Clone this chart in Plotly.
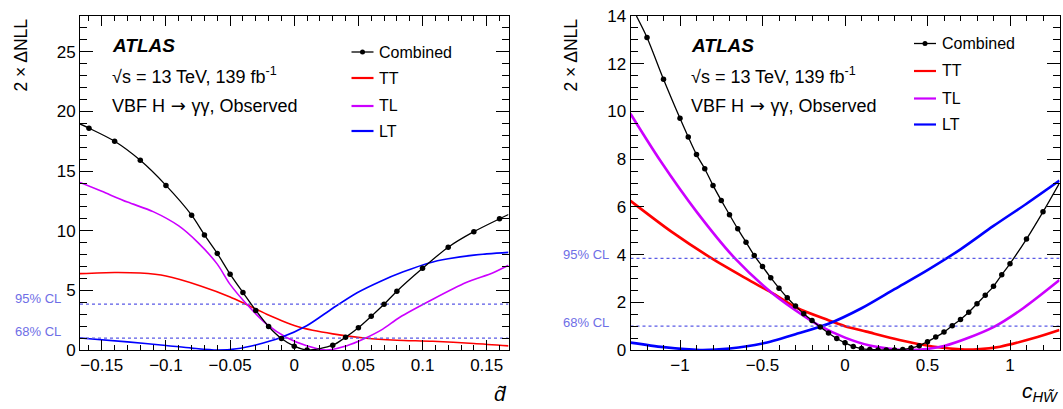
import plotly.graph_objects as go

# ---------------- data: left panel (d-tilde) ----------------
d_comb_x = [-0.16, -0.14, -0.12, -0.10, -0.08, -0.07, -0.06, -0.05, -0.04, -0.03, -0.02, -0.01,
            0.0, 0.01, 0.03, 0.04, 0.05, 0.06, 0.07, 0.08, 0.10, 0.12, 0.14, 0.16]
d_comb_y = [18.6, 17.5, 15.9, 13.8, 11.3, 9.65, 8.1, 6.36, 4.82, 3.32, 1.97, 0.96,
            0.32, 0.0, 0.4, 1.07, 1.86, 2.82, 3.83, 4.93, 6.85, 8.62, 9.92, 11.0]
d_comb_edge_x = [-0.167, 0.167]
d_comb_edge_y = [18.95, 11.36]

d_tt_x = [-0.167, -0.14, -0.12, -0.10, -0.073, -0.05, -0.038, -0.0215, 0.0045, 0.03, 0.056, 0.08, 0.108, 0.14, 0.167]
d_tt_y = [6.4, 6.5, 6.45, 6.2, 5.37, 4.45, 3.85, 3.0, 1.9, 1.35, 0.98, 0.82, 0.73, 0.55, 0.35]

d_tl_x = [-0.167, -0.15, -0.13, -0.11, -0.09, -0.075, -0.06, -0.05, -0.037, -0.0215, -0.006,
          0.0097, 0.025, 0.041, 0.054, 0.069, 0.082, 0.108, 0.134, 0.155, 0.167]
d_tl_y = [14.05, 13.3, 12.4, 11.6, 10.4, 9.0, 7.2, 5.5, 3.83, 2.17, 1.05,
          0.36, 0.0, 0.36, 0.92, 1.75, 2.72, 4.25, 5.65, 6.48, 7.1]

d_lt_x = [-0.167, -0.13, -0.1, -0.08, -0.06, -0.045, -0.03, -0.01, 0.0097, 0.03, 0.049, 0.067, 0.085,
          0.105, 0.12, 0.14, 0.167]
d_lt_y = [1.0, 0.68, 0.38, 0.16, 0.0, 0.1, 0.42, 1.06, 2.03, 3.5, 4.8, 5.75, 6.55,
          7.3, 7.65, 7.95, 8.18]

# ---------------- data: right panel (c_HWtilde) ----------------
c_comb_x = [-1.2, -1.1, -1.0, -0.95, -0.9, -0.85, -0.8, -0.75, -0.7, -0.65, -0.6, -0.55, -0.5,
            -0.45, -0.4, -0.35, -0.3, -0.25, -0.2, -0.15, -0.1, -0.05, 0.0, 0.05, 0.1, 0.15,
            0.2, 0.25, 0.3, 0.35, 0.4, 0.45, 0.5, 0.55, 0.6, 0.65, 0.7, 0.75, 0.8, 0.85, 0.9,
            0.95, 1.0, 1.1, 1.2]
c_comb_y = [13.1, 11.35, 9.71, 8.93, 8.19, 7.6, 6.9, 6.27, 5.67, 5.08, 4.52, 3.96, 3.5,
            3.03, 2.59, 2.19, 1.84, 1.52, 1.24, 0.96, 0.71, 0.48, 0.3, 0.15, 0.06, 0.02,
            0.0, 0.0, 0.0, 0.02, 0.08, 0.18, 0.35, 0.54, 0.75, 1.02, 1.28, 1.58, 1.94, 2.3, 2.67,
            3.15, 3.62, 4.65, 5.79]
c_comb_edge_x = [-1.264, 1.3]
c_comb_edge_y = [14.0, 7.0]

c_tt_x = [-1.3, -1.05, -0.81, -0.6, -0.435, -0.29, -0.1, 0.0, 0.13, 0.33, 0.53, 0.7, 0.8, 0.94, 1.14, 1.3]
c_tt_y = [6.25, 4.95, 3.85, 3.0, 2.36, 1.76, 1.25, 1.0, 0.77, 0.42, 0.15, 0.03, 0.03, 0.14, 0.49, 0.84]

c_tl_x = [-1.3, -1.12, -0.9, -0.667, -0.435, -0.25, -0.15, 0.0, 0.15, 0.38, 0.6, 0.9, 1.08, 1.3]
c_tl_y = [9.9, 7.94, 5.8, 3.84, 2.35, 1.43, 1.0, 0.52, 0.19, 0.0, 0.17, 0.96, 1.75, 2.93]

c_lt_x = [-1.3, -1.1, -0.88, -0.7, -0.5, -0.3, -0.1, 0.1, 0.3, 0.5, 0.7, 0.9, 1.1, 1.3]
c_lt_y = [0.31, 0.12, 0.0, 0.06, 0.27, 0.66, 1.1, 1.75, 2.55, 3.35, 4.22, 5.2, 6.13, 7.1]

cl_levels = [3.84, 1.0]
cl_labels = ["95% CL", "68% CL"]

legend_names = ["Combined", "TT", "TL", "LT"]
colors = {"Combined": "black", "TT": "#ff0000", "TL": "#cc00ff", "LT": "#0000ff"}

W, H = 1063, 409
FONT = "Liberation Sans, Arial, sans-serif"

fig = go.Figure()

def add_panel(xa, ya, comb_x, comb_y, edge_x, edge_y, tt, tl, lt, xr, width_col):
    lx = [edge_x[0]] + comb_x + [edge_x[1]]
    ly = [edge_y[0]] + comb_y + [edge_y[1]]
    for (x, y), name in zip([tt, tl, lt], ["TT", "TL", "LT"]):
        fig.add_trace(go.Scatter(x=x, y=y, mode="lines", xaxis=xa, yaxis=ya,
                                 line=dict(color=colors[name], width=width_col, shape="spline", smoothing=0.8),
                                 showlegend=False, hoverinfo="skip"))
    for lvl in cl_levels:
        fig.add_trace(go.Scatter(x=xr, y=[lvl, lvl], mode="lines", xaxis=xa, yaxis=ya,
                                 line=dict(color="#5a5ae6", width=1.3, dash="3px,3px"),
                                 showlegend=False, hoverinfo="skip"))
    fig.add_trace(go.Scatter(x=lx, y=ly, mode="lines", xaxis=xa, yaxis=ya,
                             line=dict(color="black", width=1.3, shape="spline", smoothing=0.8),
                             showlegend=False, hoverinfo="skip"))
    fig.add_trace(go.Scatter(x=comb_x, y=comb_y, mode="markers", xaxis=xa, yaxis=ya,
                             marker=dict(color="black", size=5.5),
                             showlegend=False, hoverinfo="skip"))

dx_range = [-0.167, 0.167]
cx_range = [-1.3, 1.3]
add_panel("x", "y", d_comb_x, d_comb_y, d_comb_edge_x, d_comb_edge_y,
          (d_tt_x, d_tt_y), (d_tl_x, d_tl_y), (d_lt_x, d_lt_y), dx_range, 1.6)
add_panel("x2", "y2", c_comb_x, c_comb_y, c_comb_edge_x, c_comb_edge_y,
          (c_tt_x, c_tt_y), (c_tl_x, c_tl_y), (c_lt_x, c_lt_y), cx_range, 2.6)

def px(x):
    return x / W

def py(y):
    return 1 - y / H

L1, R1 = 80, 508.5
L2, R2 = 630.5, 1059.5
TOP, BOT = 16, 350

tickfont = dict(family=FONT, size=17, color="black")

def xaxis_cfg(dom, rng, dtick, minor, anchor):
    return dict(domain=[px(dom[0]), px(dom[1])], range=rng, anchor=anchor, automargin=False,
                showline=True, linecolor="black", linewidth=1, mirror="ticks",
                ticks="inside", ticklen=10, tickwidth=1, tickcolor="black",
                dtick=dtick, tick0=0, showgrid=False, zeroline=False,
                minor=dict(ticks="inside", ticklen=5, dtick=minor, tick0=0, tickcolor="black", showgrid=False),
                tickfont=tickfont)

def yaxis_cfg(rng, dtick, minor, anchor):
    return dict(domain=[py(BOT), py(TOP)], range=rng, anchor=anchor, automargin=False,
                showline=True, linecolor="black", linewidth=1, mirror="ticks",
                ticks="inside", ticklen=13, tickwidth=1, tickcolor="black",
                dtick=dtick, tick0=0, showgrid=False, zeroline=False,
                minor=dict(ticks="inside", ticklen=7, dtick=minor, tick0=0, tickcolor="black", showgrid=False),
                tickfont=tickfont)

fig.update_layout(
    width=W, height=H, margin=dict(l=0, r=0, t=0, b=0, pad=0),
    paper_bgcolor="white", plot_bgcolor="white", showlegend=False,
    font=dict(family=FONT, color="black"),
    xaxis=xaxis_cfg((L1, R1), dx_range, 0.05, 0.01, "y"),
    yaxis=yaxis_cfg([0, 28], 5, 1, "x"),
    xaxis2=xaxis_cfg((L2, R2), cx_range, 0.5, 0.1, "y2"),
    yaxis2=yaxis_cfg([0, 14], 2, 0.5, "x2"),
)

ann = []
shapes = []

def text(x, y, s, size, xanchor="left", yanchor="middle", color="black", angle=0):
    ann.append(dict(x=px(x), y=py(y), xref="paper", yref="paper", text=s, showarrow=False,
                    xanchor=xanchor, yanchor=yanchor, textangle=angle,
                    font=dict(family=FONT, size=size, color=color)))

ARROW = '<span style="font-family:DejaVu Sans"> → </span>'

# headers
for x0, ys in [(110, (46, 75, 105)), (689, (46, 75, 105))]:
    text(x0, ys[0], "<b><i>ATLAS</i></b>", 19)
    text(x0, ys[1], "√s = 13 TeV, 139 fb<sup>-1</sup>", 18)
    text(x0, ys[2], "VBF H" + ARROW + "γγ, Observed", 18)

# legends
for (lx0, lx1, tx, rows) in [(351.5, 373.5, 377, (52, 78, 106, 131)),
                             (914, 936, 940, (43.5, 71, 98.5, 124.5))]:
    for name, yy in zip(legend_names, rows):
        c = colors[name]
        shapes.append(dict(type="line", xref="paper", yref="paper", x0=px(lx0), x1=px(lx1),
                           y0=py(yy), y1=py(yy), line=dict(color=c, width=1.3 if name == "Combined" else 2.2)))
        if name == "Combined":
            cx = (lx0 + lx1) / 2
            shapes.append(dict(type="circle", xref="paper", yref="paper", x0=px(cx - 2.5), x1=px(cx + 2.5),
                               y0=py(yy + 2.5), y1=py(yy - 2.5), fillcolor="black", line=dict(color="black", width=0)))
        text(tx, yy, name, 16)

# CL labels
for xr_, ys in [(63, (298.5, 331.5)), (611, (254.5, 322.5))]:
    for lab, yy in zip(cl_labels, ys):
        text(xr_, yy, lab, 13, xanchor="right", color="#6e6ee6")

# axis titles
text(20, 17, "2 × ΔNLL", 17.5, xanchor="center", yanchor="top", angle=-90)
text(570, 17, "2 × ΔNLL", 17.5, xanchor="center", yanchor="top", angle=-90)
text(509, 407, "<i>d̃</i>", 21, xanchor="right", yanchor="bottom")
text(1061, 407, "<i>c</i><sub><i>HW̃</i></sub>", 21, xanchor="right", yanchor="bottom")

fig.update_layout(annotations=ann, shapes=shapes)
fig.write_html("out.html", config={"displayModeBar": False},
               post_script="document.body.style.margin='0px';document.body.style.overflow='hidden';")
